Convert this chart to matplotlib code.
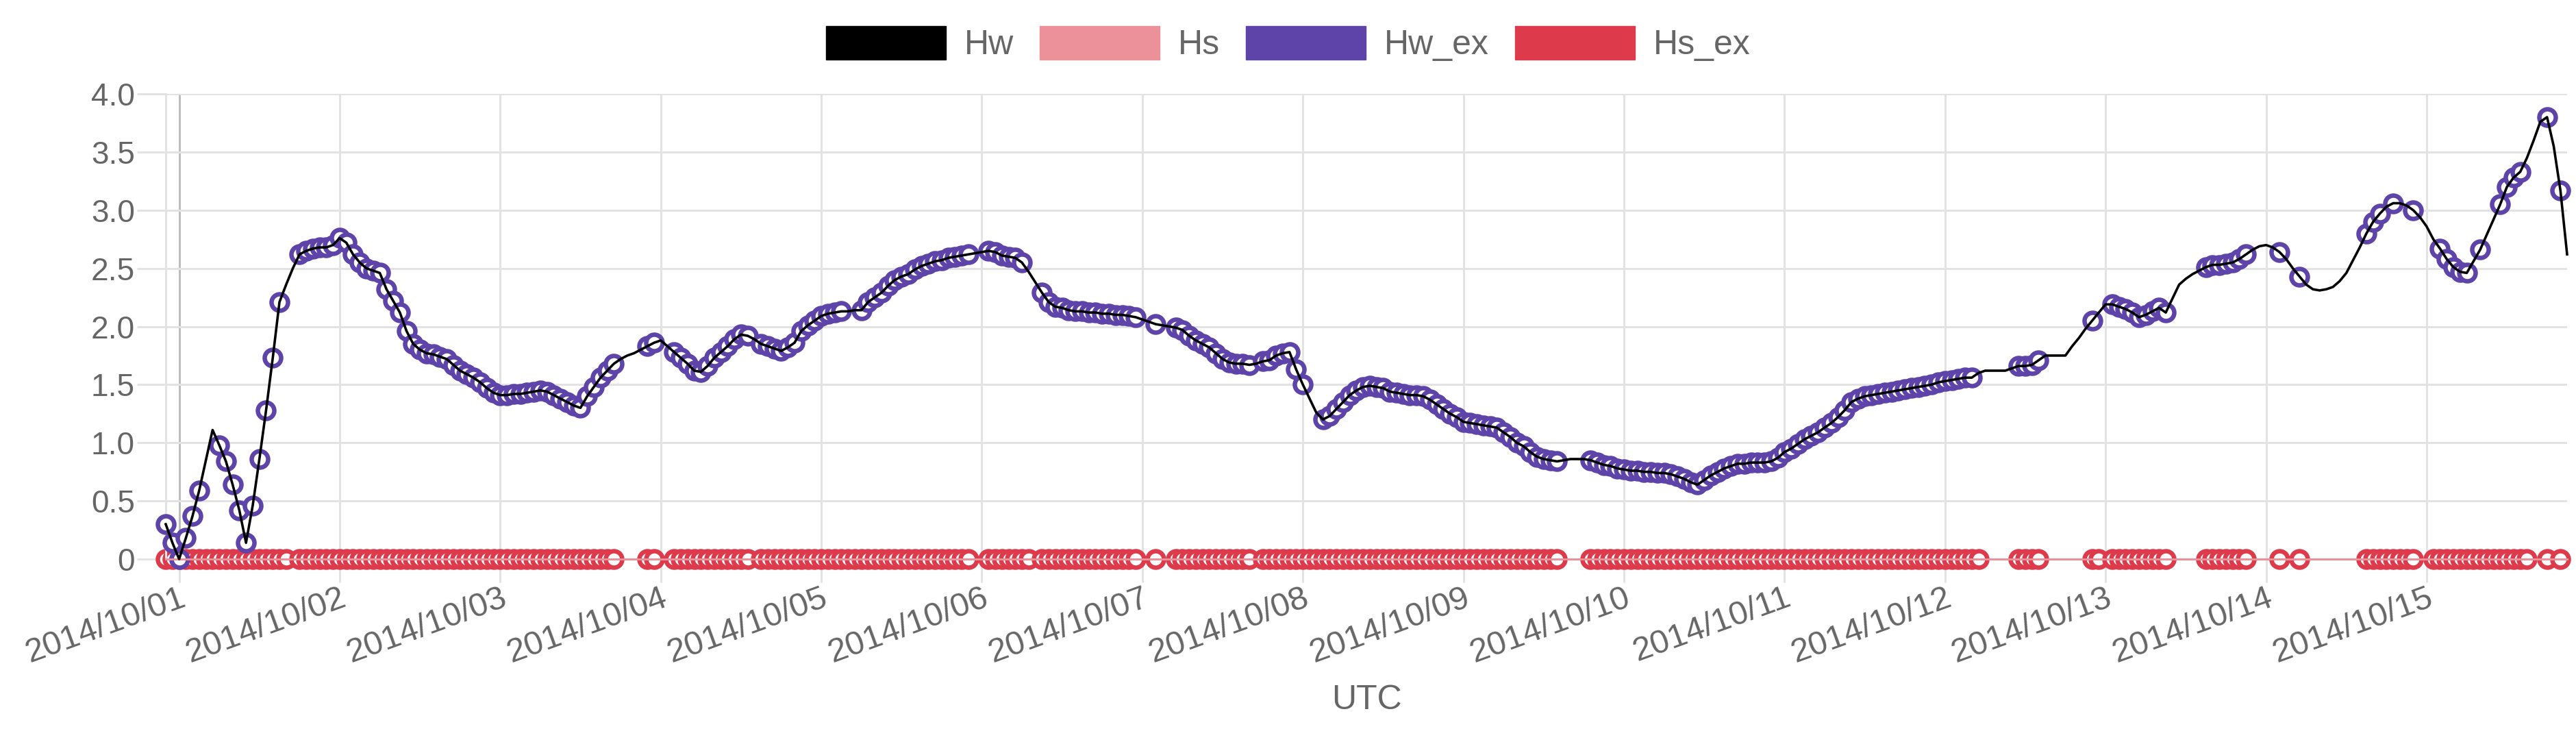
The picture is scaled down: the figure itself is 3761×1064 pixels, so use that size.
import numpy as np
import matplotlib
matplotlib.use("Agg")
import matplotlib.pyplot as plt
from matplotlib.patches import Patch

plt.rcParams['font.family'] = ['Liberation Sans', 'DejaVu Sans']

# hourly series, first sample 2014-09-30 22:00 UTC, one row = 24 hours
start = np.datetime64('2014-09-30T22:00')
hw = [
    0.30, 0.14, 0.00, 0.18, 0.37, 0.59, 0.85, 1.11, 0.98, 0.84, 0.64, 0.42, 0.14, 0.46, 0.86, 1.28, 1.73, 2.21, 2.36, 2.50, 2.62, 2.65, 2.67, 2.68,
    2.68, 2.70, 2.76, 2.72, 2.62, 2.55, 2.50, 2.48, 2.46, 2.32, 2.22, 2.12, 1.96, 1.85, 1.80, 1.77, 1.76, 1.74, 1.72, 1.67, 1.62, 1.59, 1.56, 1.52,
    1.47, 1.43, 1.41, 1.41, 1.42, 1.42, 1.43, 1.44, 1.45, 1.44, 1.41, 1.38, 1.35, 1.32, 1.30, 1.40, 1.48, 1.56, 1.62, 1.68, 1.72, 1.75, 1.77, 1.80,
    1.83, 1.86, 1.88, 1.83, 1.78, 1.73, 1.68, 1.62, 1.61, 1.66, 1.73, 1.78, 1.83, 1.89, 1.93, 1.92, 1.89, 1.85, 1.83, 1.81, 1.79, 1.82, 1.86, 1.96,
    2.01, 2.05, 2.09, 2.11, 2.12, 2.13, 2.13, 2.14, 2.14, 2.21, 2.25, 2.29, 2.35, 2.40, 2.43, 2.45, 2.49, 2.52, 2.54, 2.56, 2.57, 2.59, 2.60, 2.61,
    2.62, 2.63, 2.64, 2.65, 2.64, 2.61, 2.60, 2.59, 2.55, 2.47, 2.38, 2.29, 2.21, 2.17, 2.16, 2.14, 2.13, 2.13, 2.12, 2.12, 2.11, 2.11, 2.10, 2.10,
    2.09, 2.08, 2.06, 2.04, 2.02, 2.01, 2.00, 1.99, 1.97, 1.92, 1.88, 1.85, 1.82, 1.77, 1.72, 1.69, 1.68, 1.68, 1.67, 1.68, 1.70, 1.71, 1.75, 1.77,
    1.78, 1.63, 1.50, 1.38, 1.26, 1.20, 1.23, 1.29, 1.35, 1.41, 1.45, 1.48, 1.49, 1.48, 1.47, 1.44, 1.43, 1.42, 1.41, 1.41, 1.40, 1.37, 1.33, 1.29,
    1.25, 1.22, 1.18, 1.17, 1.16, 1.15, 1.14, 1.13, 1.09, 1.05, 1.00, 0.97, 0.92, 0.88, 0.86, 0.85, 0.84, 0.85, 0.86, 0.86, 0.86, 0.85, 0.83, 0.81,
    0.80, 0.78, 0.77, 0.76, 0.76, 0.75, 0.75, 0.74, 0.74, 0.73, 0.71, 0.69, 0.66, 0.64, 0.68, 0.72, 0.75, 0.78, 0.80, 0.82, 0.82, 0.83, 0.83, 0.83,
    0.84, 0.87, 0.92, 0.95, 0.99, 1.03, 1.06, 1.09, 1.13, 1.17, 1.22, 1.28, 1.35, 1.38, 1.40, 1.41, 1.42, 1.43, 1.44, 1.45, 1.46, 1.47, 1.48, 1.49,
    1.50, 1.52, 1.53, 1.54, 1.55, 1.56, 1.56, 1.60, 1.62, 1.62, 1.62, 1.62, 1.64, 1.66, 1.66, 1.67, 1.71, 1.75, 1.75, 1.75, 1.75, 1.83, 1.90, 1.98,
    2.05, 2.12, 2.19, 2.19, 2.17, 2.15, 2.12, 2.08, 2.10, 2.13, 2.16, 2.12, 2.24, 2.36, 2.41, 2.45, 2.48, 2.51, 2.53, 2.53, 2.54, 2.55, 2.58, 2.62,
    2.66, 2.69, 2.70, 2.68, 2.64, 2.58, 2.50, 2.43, 2.36, 2.32, 2.31, 2.32, 2.34, 2.39, 2.46, 2.57, 2.68, 2.80, 2.90, 2.97, 3.03, 3.06, 3.06, 3.04,
    3.00, 2.94, 2.86, 2.75, 2.67, 2.58, 2.51, 2.47, 2.46, 2.56, 2.66, 2.79, 2.92, 3.05, 3.20, 3.28, 3.33, 3.45, 3.60, 3.76, 3.80, 3.55, 3.17, 2.62,
]
hs = [0.0] * len(hw)

# hours (index into the series) with observations, as inclusive ranges
hw_ex_hours = [(0, 5), (8, 17), (20, 67), (72, 73), (76, 87), (89, 101), (104, 120),
               (123, 128), (131, 145), (148, 148), (151, 162), (164, 170), (173, 208),
               (213, 270), (277, 280), (288, 288), (291, 299), (305, 311), (316, 316),
               (319, 319), (329, 331), (333, 333), (336, 336), (340, 344), (346, 346),
               (349, 352), (356, 356), (358, 358)]
hs_ex_only = [6, 7, 18, 102, 103, 129, 171, 172, 271, 289, 332, 334, 335, 339, 345, 347, 348, 353]

tick_labels = ['2014/10/%02d' % d for d in range(1, 16)]
y_ticks = [0, 0.5, 1.0, 1.5, 2.0, 2.5, 3.0, 3.5, 4.0]
y_labels = ['0', '0.5', '1.0', '1.5', '2.0', '2.5', '3.0', '3.5', '4.0']

names = ['Hw', 'Hs', 'Hw_ex', 'Hs_ex']
colors = ['#000000', '#ec909a', '#5e44a9', '#dd3a4b']

hw = np.array(hw)
hs = np.array(hs)
t = start + np.arange(len(hw)) * np.timedelta64(1, 'h')
idx_w = np.array([h for a, b in hw_ex_hours for h in range(a, b + 1)])
idx_s = np.array(sorted(set(idx_w.tolist()) | set(hs_ex_only)))

W, H = 3761, 1064
px = 72 / 100.0  # points per pixel at dpi 100
fig = plt.figure(figsize=(W / 100, H / 100), dpi=100)
ax = fig.add_axes([242 / W, 1 - 816 / H, (3748 - 242) / W, (816 - 137) / H])

gridc = '#e3e3e3'
ms = 24 * px
mew = 6.5 * px
ax.plot(t[idx_s], hs[idx_s], 'o', ms=ms, mew=mew, mec=colors[3], mfc='white',
        zorder=2, clip_on=False)
ax.plot(t[idx_w], hw[idx_w], 'o', ms=ms, mew=mew, mec=colors[2], mfc='white',
        zorder=3, clip_on=False)
ax.plot(t, hs, '-', color=colors[1], lw=3 * px, zorder=4, clip_on=False)
ax.plot(t, hw, '-', color='black', lw=3.6 * px, zorder=5, clip_on=False)

ax.set_xlim(t[0], t[-1])
ax.set_ylim(0, 4)

tick_pos = [np.datetime64(s.replace('/', '-')) for s in tick_labels]
ax.set_xticks(tick_pos)
ax.set_xticklabels(tick_labels, rotation=20, ha='right', va='top',
                   rotation_mode='anchor')
ax.set_yticks(y_ticks)
ax.set_yticklabels(y_labels)

ax.grid(True, color=gridc, lw=3 * px, zorder=0)
ax.set_axisbelow(True)
for s in ['top', 'right', 'bottom']:
    ax.spines[s].set_visible(False)
ax.spines['left'].set_color(gridc)
ax.spines['left'].set_linewidth(3 * px)

ax.tick_params(axis='x', length=34 * px, width=3 * px, color=gridc,
               labelsize=49 * px, labelcolor='#666666', pad=0)
ax.tick_params(axis='y', length=42 * px, width=3 * px, color=gridc,
               labelsize=46 * px, labelcolor='#666666', pad=3 * px)

# first day line is drawn darker
first = ax.xaxis.get_major_ticks()[0]
first.gridline.set_color('#bdbdbd')
first.tick1line.set_color('#bdbdbd')

fig.text((242 + 3748) / 2 / W, 1 - 1035 / H, 'UTC', ha='center', va='baseline',
         fontsize=50 * px, color='#666666')

handles = [Patch(facecolor=c, edgecolor=c) for c in colors]
fig.legend(handles, names, loc='upper center', bbox_to_anchor=(0.5, 1 - 38 / H),
           ncol=4, frameon=False, fontsize=50 * px, handlelength=3.5,
           handleheight=1.12, handletextpad=0.54, columnspacing=0.76,
           borderpad=0, borderaxespad=0, labelcolor='#666666')

fig.savefig('out.png', dpi=100)
